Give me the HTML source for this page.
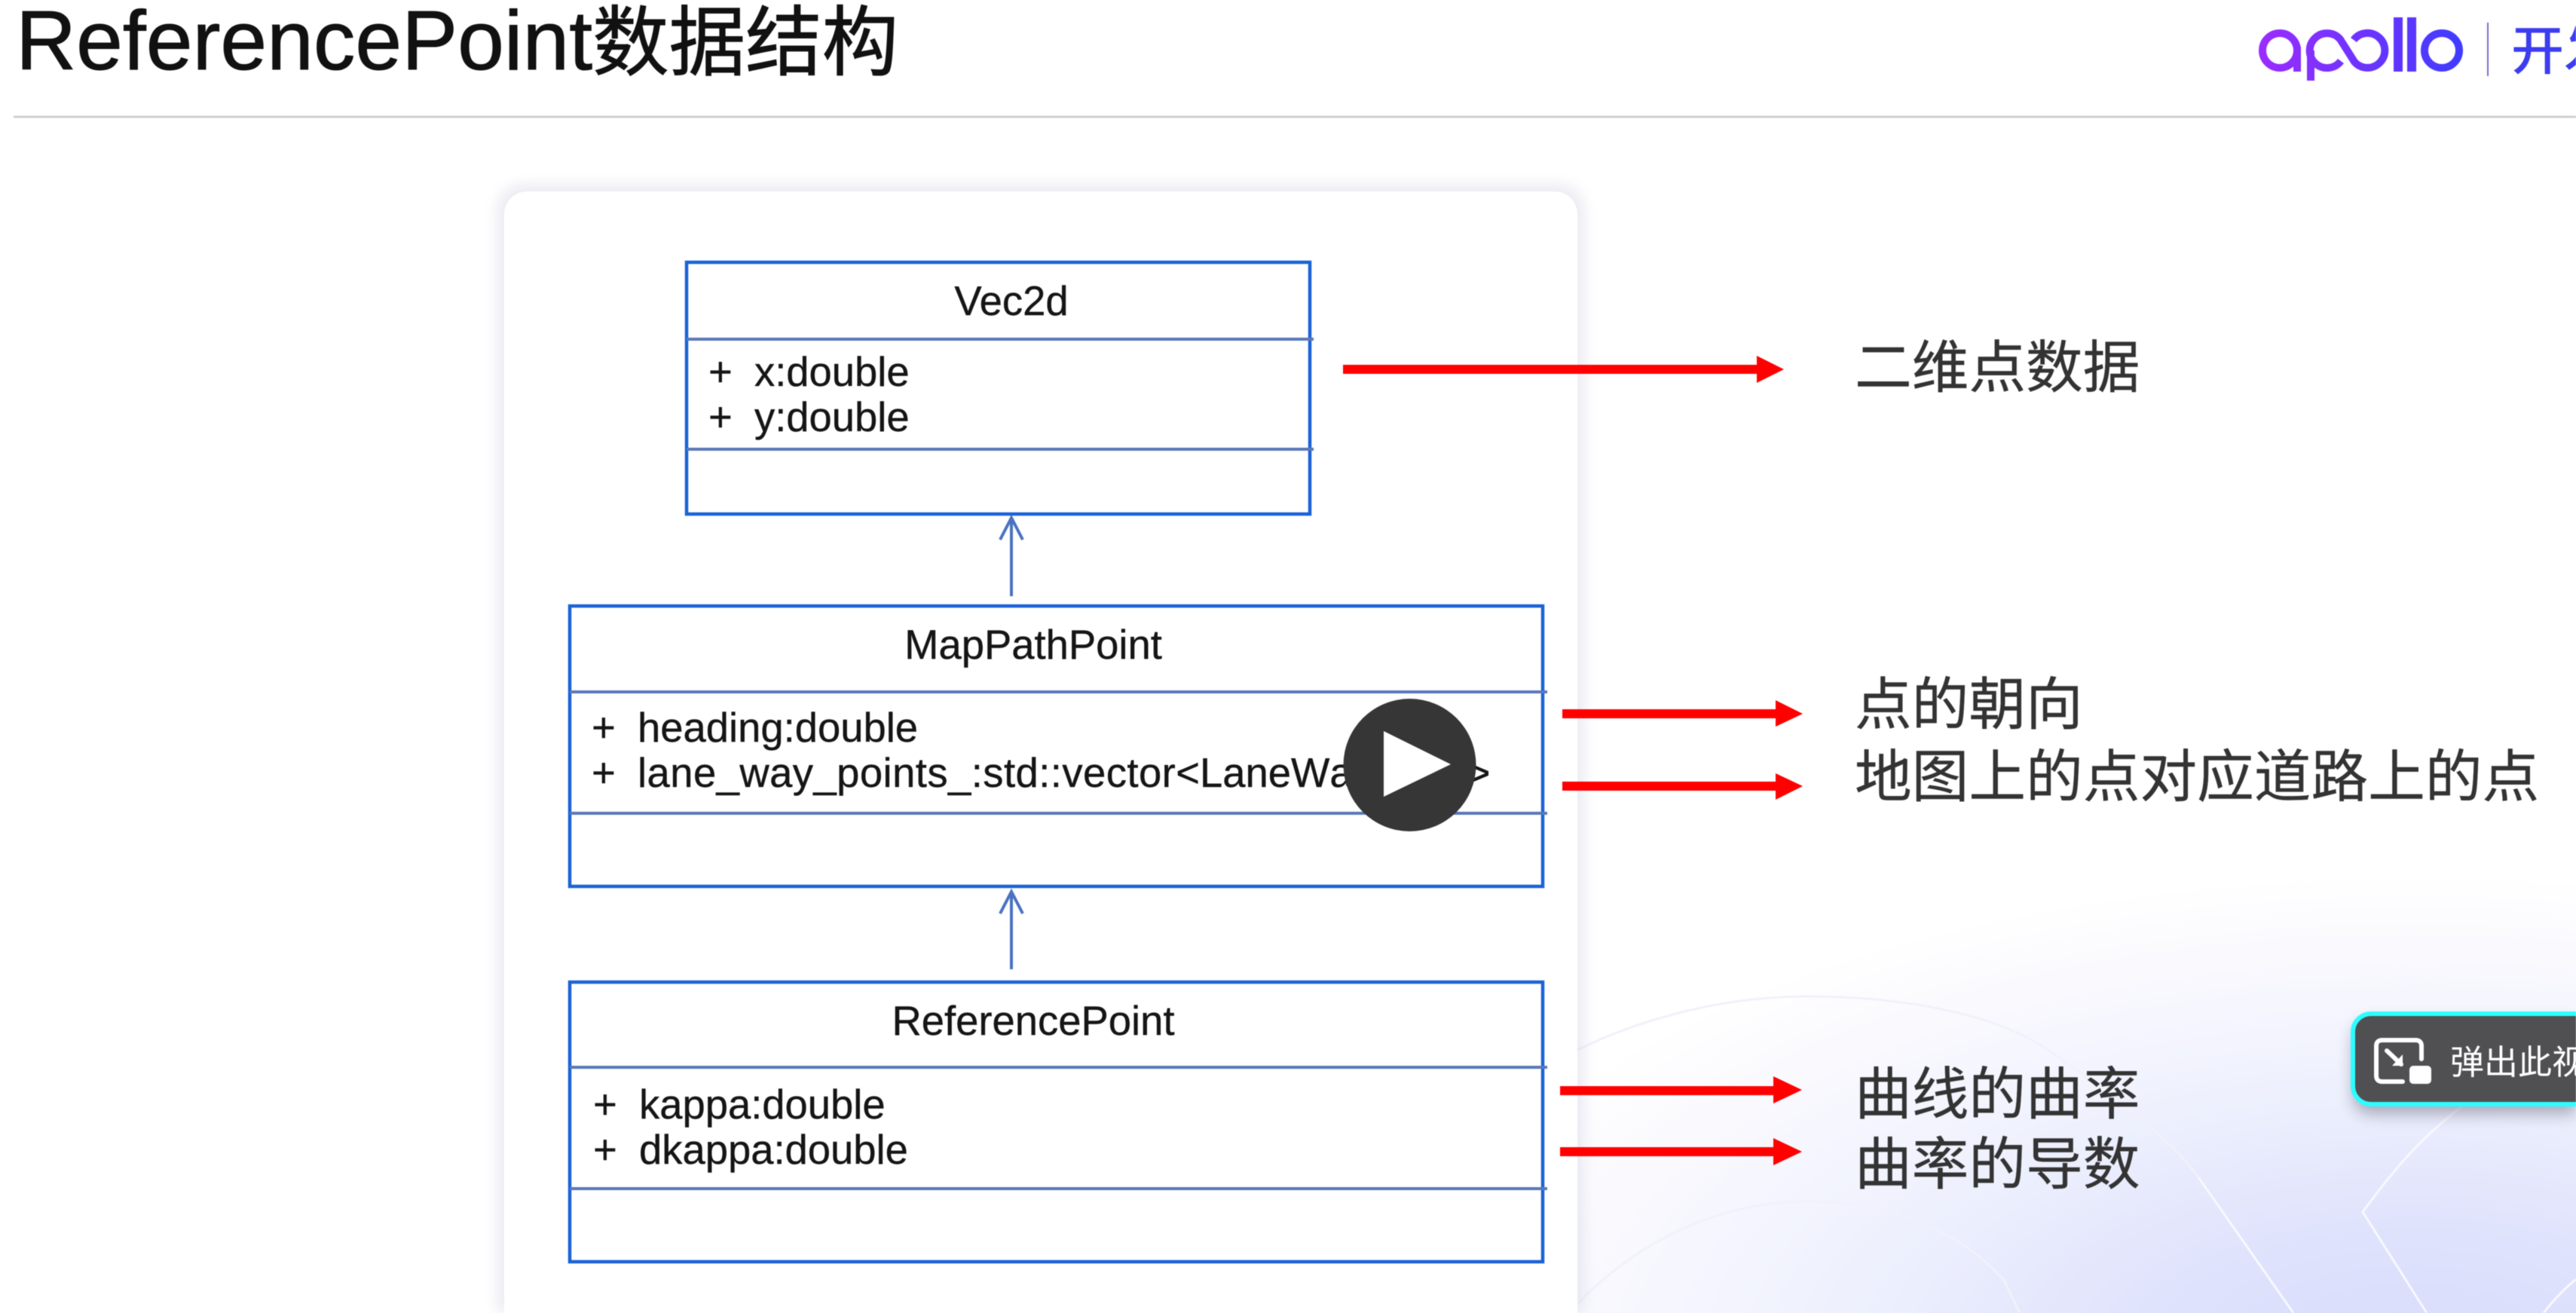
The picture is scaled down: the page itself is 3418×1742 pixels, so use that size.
<!DOCTYPE html>
<html><head><meta charset="utf-8"><style>
html,body{margin:0;padding:0;background:#fff;width:3418px;height:1742px;overflow:hidden}
svg{display:block;position:absolute;left:0;top:0;filter:blur(.6px)}
.bg{position:absolute;left:0;top:0;width:3418px;height:1742px;background:radial-gradient(ellipse 1350px 640px at 3200px 1800px,#d8dbfb 0,#e0e3fc 28%,#edf0fd 55%,#f8f8fe 80%,#fff 100%)}
text{font-family:"Liberation Sans","Noto Sans CJK SC",sans-serif}
.u{font-size:54.4px;fill:#151515;stroke:#151515;stroke-width:.4px}
.c{font-size:75.7px;fill:#333;stroke:#333;stroke-width:.4px}
</style></head><body>
<div class="bg"></div>
<svg width="3418" height="1742" viewBox="0 0 3418 1742" xmlns="http://www.w3.org/2000/svg">
<defs>
<linearGradient id="lg" gradientUnits="userSpaceOnUse" x1="2997" y1="0" x2="3268" y2="0"><stop offset="0" stop-color="#9b2cff"/><stop offset="1" stop-color="#3f3cff"/></linearGradient>
<filter id="cs" x="-5%" y="-5%" width="110%" height="110%"><feGaussianBlur stdDeviation="9"/></filter>
<filter id="ps" x="-20%" y="-30%" width="140%" height="170%"><feGaussianBlur stdDeviation="10"/></filter>
</defs>

<!-- background decoration -->
<g fill="none" stroke="#f1f1fb" stroke-width="3">
<path d="M2093 1393C2180 1350 2290 1322 2398 1322C2540 1322 2660 1350 2723 1397C2800 1450 2880 1510 2917 1562"/>
<path d="M2093 1730C2180 1640 2290 1594 2398 1594C2500 1594 2600 1630 2660 1700L2680 1742"/>
</g>
<g fill="none" stroke="#f8f8fe" stroke-width="3">
<path d="M2917 1562L3043 1742"/>
<path d="M3267 1468C3210 1510 3170 1560 3135 1608L3220 1742"/>
<path d="M3375 1742C3390 1722 3405 1708 3418 1697"/>
</g>

<!-- header -->
<text x="21" y="92" font-size="111" fill="#111" stroke="#111" stroke-width="1">ReferencePoint<tspan font-size="101.500">数据结构</tspan></text>
<rect x="18" y="153.500" width="3400" height="3" fill="#cfcfcf"/>

<!-- logo -->
<g fill="none" stroke="url(#lg)" stroke-width="10">
<circle cx="3025" cy="67" r="23"/>
<path d="M3048 62V95"/>
<path d="M3123 53A23 23 0 1 1 3124 82L3105 52A23 23 0 1 0 3106 81"/>
<path d="M3066 67V107"/>
<circle cx="3240" cy="67" r="23"/>
</g>
<rect x="3176" y="23" width="12" height="72" fill="#5e35ff"/>
<rect x="3194" y="23" width="12" height="72" fill="#5a36ff"/>
<rect x="3300" y="30" width="2" height="71" fill="#7a6ccc"/>
<text x="3332" y="92" font-size="70" font-weight="500" fill="#3c3cf0">开发</text>

<!-- card -->
<path d="M660 1742V279A34 34 0 0 1 694 245H2068A34 34 0 0 1 2102 279V1742Z" fill="#d9d9e8" opacity=".55" filter="url(#cs)"/>
<path d="M669 1742V284A30 30 0 0 1 699 254H2063A30 30 0 0 1 2093 284V1742Z" fill="#fff"/>

<!-- Vec2d -->
<rect x="911" y="348" width="827" height="334" fill="#fff" stroke="#1a62d6" stroke-width="4.500"/>
<path d="M911 450H1743M911 596H1743" stroke="#5a78b8" stroke-width="4"/>
<text x="1342" y="418" text-anchor="middle" class="u">Vec2d</text>
<text x="940" y="512" class="u">+</text><text x="1001" y="512" class="u">x:double</text>
<text x="940" y="572" class="u">+</text><text x="1001" y="572" class="u">y:double</text>

<!-- up arrows -->
<g fill="none" stroke="#4a72c0" stroke-width="4">
<path d="M1342 791V688M1327 716L1342 687L1357 716"/>
<path d="M1342 1286V1184M1327 1212L1342 1183L1357 1212"/>
</g>

<!-- MapPathPoint -->
<rect x="756" y="804" width="1291" height="372" fill="#fff" stroke="#1a62d6" stroke-width="4.500"/>
<path d="M756 918H2053M756 1079H2053" stroke="#5a78b8" stroke-width="4"/>
<text x="1371" y="874" text-anchor="middle" class="u">MapPathPoint</text>
<text x="785" y="984" class="u">+</text><text x="846" y="984" class="u">heading:double</text>
<text x="785" y="1044" class="u">+</text>
<text x="846" y="1044" class="u" textLength="746" lengthAdjust="spacing">lane_way_points_:std::vector&lt;</text>
<text x="1592" y="1044" class="u" style="font-kerning:none">LaneWayPoint&gt;</text>

<!-- ReferencePoint -->
<rect x="756" y="1303" width="1291" height="371" fill="#fff" stroke="#1a62d6" stroke-width="4.500"/>
<path d="M756 1416H2053M756 1577H2053" stroke="#5a78b8" stroke-width="4"/>
<text x="1371" y="1373" text-anchor="middle" class="u">ReferencePoint</text>
<text x="787" y="1484" class="u">+</text><text x="848" y="1484" class="u">kappa:double</text>
<text x="787" y="1544" class="u">+</text><text x="848" y="1544" class="u">dkappa:double</text>

<!-- play button -->
<ellipse cx="1870.500" cy="1015" rx="88" ry="88" fill="#363636"/>
<path d="M1836 970L1925 1014L1836 1057Z" fill="#fff"/>

<!-- red arrows -->
<g fill="#fe0000">
<path d="M1782 484H2331V472L2367 490L2331 508V496H1782Z"/>
<path d="M2073 941H2356V929L2392 947L2356 964V953H2073Z"/>
<path d="M2073 1037H2356V1026L2392 1043L2356 1061V1049H2073Z"/>
<path d="M2070 1441H2353V1428L2391 1446L2353 1464V1453H2070Z"/>
<path d="M2070 1522H2353V1510L2391 1528L2353 1546V1534H2070Z"/>
</g>

<!-- annotation labels -->
<text x="2461" y="514" class="c">二维点数据</text>
<text x="2461" y="961" class="c">点的朝向</text>
<text x="2461" y="1057" class="c">地图上的点对应道路上的点</text>
<text x="2461" y="1478" class="c">曲线的曲率</text>
<text x="2461" y="1571" class="c">曲率的导数</text>

<!-- popup -->
<path d="M3146 1356H3418V1478H3146A24 24 0 0 1 3122 1454V1380A24 24 0 0 1 3146 1356Z" fill="#55556a" opacity=".45" filter="url(#ps)"/>
<path d="M3418 1345H3146A24 24 0 0 0 3122 1369V1441A24 24 0 0 0 3146 1465H3418" fill="#505053" stroke="#2dfdff" stroke-width="6"/>
<path d="M3213 1405V1388Q3213 1380 3205 1380H3161Q3153 1380 3153 1388V1427Q3153 1435 3161 1435H3188" fill="none" stroke="#fff" stroke-width="6" stroke-linecap="round"/>
<path d="M3167 1394L3186 1412" stroke="#fff" stroke-width="6" stroke-linecap="round"/>
<path d="M3188 1399V1414H3174Z" fill="#fff"/>
<rect x="3197" y="1414" width="29" height="24" rx="5" fill="#fff"/>
<text x="3251" y="1425" font-size="45" fill="#fff">弹出此视频</text>
</svg>
</body></html>
